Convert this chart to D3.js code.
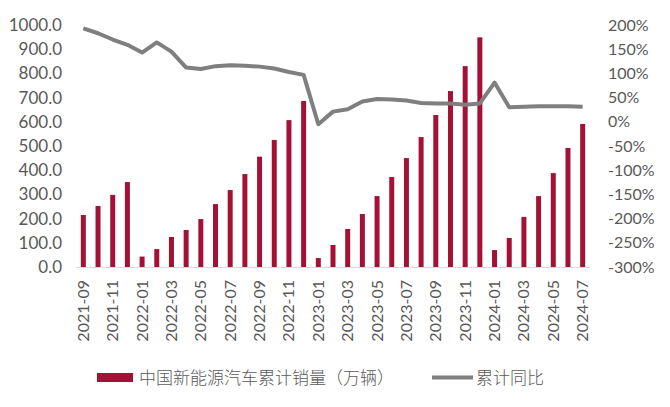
<!DOCTYPE html>
<html><head><meta charset="utf-8">
<script src="https://cdn.jsdelivr.net/npm/d3@7"></script>
<style>body{margin:0;background:#fff}svg{display:block}</style>
</head><body><svg id="c" width="670" height="407"></svg>
<script>
const months = ["2021-09","2021-10","2021-11","2021-12",
"2022-01","2022-02","2022-03","2022-04","2022-05","2022-06","2022-07","2022-08","2022-09","2022-10","2022-11","2022-12",
"2023-01","2023-02","2023-03","2023-04","2023-05","2023-06","2023-07","2023-08","2023-09","2023-10","2023-11","2023-12",
"2024-01","2024-02","2024-03","2024-04","2024-05","2024-06","2024-07"];
const sales = [215,252,298,351, 43,74,124,153,198,260,318,384,456,525,607,686,
 37,91,157,219,293,372,450,537,628,727,830,949, 70,120,207,293,388,492,591];
const yoy = [193,183,170,159,143,164,145,112,109,115,117,116,114,110,103,97,
 -5,21,26,42,47,46,44,39,38,38,35,38, 81,30,31,32,32,32,31];
const leftTicks = [0,100,200,300,400,500,600,700,800,900,1000];
const rightTicks = [-300,-250,-200,-150,-100,-50,0,50,100,150,200];
const seriesNames = ["中国新能源汽车累计销量（万辆）","累计同比"];

const svg = d3.select("#c");
const m = {l:76, r:590, t:25, b:267};
const font = "Lato, 'Noto Sans CJK SC', sans-serif";
const textColor = "#595959";
const barColor = "#a31235", lineColor = "#7f7f7f";

const x = d3.scaleBand().domain(months).range([m.l, m.r]).paddingInner(0.66).paddingOuter(0.33);
const yL = d3.scaleLinear().domain([0,1000]).range([m.b, m.t]);
const yR = d3.scaleLinear().domain([-300,200]).range([m.b, m.t]);

// bars
svg.append("g").selectAll("rect").data(sales).join("rect")
  .attr("x",(d,i)=>x(months[i]))
  .attr("width",x.bandwidth())
  .attr("y",d=>yL(d))
  .attr("height",d=>yL(0)-yL(d))
  .attr("fill",barColor);

// x axis line
svg.append("line").attr("x1",m.l).attr("x2",m.r).attr("y1",m.b+0.5).attr("y2",m.b+0.5)
  .attr("stroke","#d9d9d9").attr("stroke-width",1.2);

// line
const line = d3.line().x((d,i)=>x(months[i])+x.bandwidth()/2).y(d=>yR(d));
svg.append("path").datum(yoy).attr("d",line).attr("fill","none")
  .attr("stroke",lineColor).attr("stroke-width",4).attr("stroke-linejoin","round");

// left axis
const gl = svg.append("g").attr("transform",`translate(${m.l-14},0)`)
  .call(d3.axisLeft(yL).tickValues(leftTicks).tickFormat(d=>d.toFixed(1)).tickSize(0).tickPadding(0));
gl.select(".domain").remove();
gl.selectAll("text").attr("font-family",font).attr("font-size",17).attr("fill",textColor);

// right axis
const gr = svg.append("g").attr("transform",`translate(${m.r+18},0)`)
  .call(d3.axisRight(yR).tickValues(rightTicks).tickFormat(d=>d+"%").tickSize(0).tickPadding(0));
gr.select(".domain").remove();
gr.selectAll("text").attr("font-family",font).attr("font-size",16).attr("fill",textColor);

// x labels
const gx = svg.append("g");
months.forEach((mo,i)=>{
  if(i%2!==0) return;
  const cx = x(mo)+x.bandwidth()/2;
  gx.append("text").attr("transform",`translate(${cx+5.5},${m.b+13}) rotate(-90)`)
    .attr("text-anchor","end").attr("font-family",font).attr("font-size",16)
    .attr("fill",textColor).text(mo);
});

// legend
const lg = svg.append("g");
lg.append("rect").attr("x",97).attr("y",373).attr("width",36).attr("height",9).attr("fill",barColor);
lg.append("text").attr("x",139).attr("y",384).attr("font-family","'Noto Sans CJK SC', sans-serif")
  .attr("font-size",17).attr("font-weight",300).attr("fill",textColor).text(seriesNames[0]);
lg.append("line").attr("x1",432).attr("x2",473).attr("y1",377.5).attr("y2",377.5)
  .attr("stroke",lineColor).attr("stroke-width",4);
lg.append("text").attr("x",476).attr("y",384).attr("font-family","'Noto Sans CJK SC', sans-serif")
  .attr("font-size",17).attr("font-weight",300).attr("fill",textColor).text(seriesNames[1]);
</script></body></html>
